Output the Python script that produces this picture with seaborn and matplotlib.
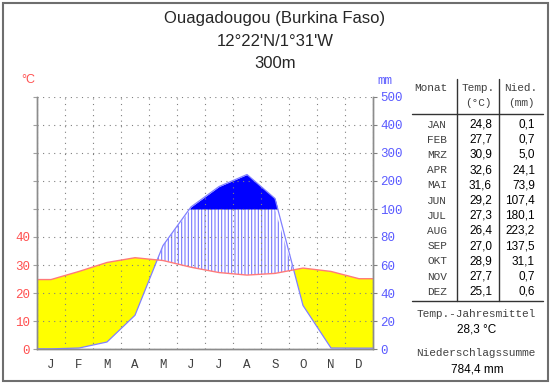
import numpy as np
import pandas as pd
import seaborn as sns
import matplotlib.pyplot as plt
from matplotlib.lines import Line2D
from matplotlib.patches import Rectangle

# climate data Ouagadougou
months = ['J', 'F', 'M', 'A', 'M', 'J', 'J', 'A', 'S', 'O', 'N', 'D']
month_names = ['JAN', 'FEB', 'MRZ', 'APR', 'MAI', 'JUN', 'JUL', 'AUG', 'SEP', 'OKT', 'NOV', 'DEZ']
temp = [24.8, 27.7, 30.9, 32.6, 31.6, 29.2, 27.3, 26.4, 27.0, 28.9, 27.7, 25.1]
prec = [0.1, 0.7, 5.0, 24.1, 73.9, 107.4, 180.1, 223.2, 137.5, 31.1, 0.7, 0.6]
left_ticks = ['0', '10', '20', '30', '40']
right_ticks = ['0', '20', '40', '60', '80', '100', '200', '300', '400', '500']

W, H = 550, 384


def fx(x):
    return x / W


def fy(y):
    return 1 - y / H


def scale_prec(p):
    p = np.asarray(p, dtype=float)
    return np.where(p <= 100, p / 2, 50 + (p - 100) / 10)


# month centres, values held flat out to the plot edges
x = np.r_[0, np.arange(12) + 0.5, 12]
t = np.r_[temp[0], temp, temp[-1]]
p = scale_prec(np.r_[prec[0], prec, prec[-1]])
df = pd.DataFrame({'x': x, 'temp': t, 'prec': p})

sns.set_style('white')
plt.rcParams['font.family'] = ['Liberation Sans', 'DejaVu Sans']
plt.rcParams['hatch.linewidth'] = 0.8
plt.rcParams['lines.scale_dashes'] = False

fig = plt.figure(figsize=(5.5, 3.84), dpi=100)
ax = fig.add_axes([fx(37), fy(349), fx(373) - fx(37), fy(97) - fy(349)])

# arid period
ax.fill_between(df['x'], df['prec'], df['temp'], where=df['temp'] >= df['prec'],
                interpolate=True, facecolor='#ffff00', linewidth=0, zorder=1)
# humid period (hatched, capped at 100 mm)
cap = np.minimum(df['prec'], 50)
ax.fill_between(df['x'], df['temp'], cap, where=df['prec'] >= df['temp'],
                interpolate=True, facecolor='white', edgecolor='#7878ff',
                hatch='|' * 5, linewidth=0, zorder=1)
# perhumid (> 100 mm)
ax.fill_between(df['x'], 50, df['prec'], where=df['prec'] >= 50,
                interpolate=True, facecolor='#0000ff', linewidth=0, zorder=1)

sns.lineplot(data=df, x='x', y='prec', ax=ax, color='#8080ff', linewidth=0.9, zorder=3)
sns.lineplot(data=df, x='x', y='temp', ax=ax, color='#ff7a7a', linewidth=1.0, zorder=3)

ax.set_xlim(0, 12)
ax.set_ylim(0, 90)
ax.set_xlabel('')
ax.set_ylabel('')

ax.set_xticks(np.arange(12) + 0.5)
ax.set_xticklabels(months, family='Liberation Mono', fontsize=9, color='#404040')
ax.set_xticks(np.arange(13), minor=True)
ax.tick_params(axis='x', which='major', length=0, pad=7)
ax.tick_params(axis='x', which='minor', length=4, width=0.8, color='#808080', direction='out')

ax.set_yticks(np.arange(0, 100, 10))
ax.set_yticklabels(left_ticks + [''] * 5, family='Liberation Mono', fontsize=9, color='#ff5050')
ax.tick_params(axis='y', length=3, width=0.8, color='#a0a0a0', pad=2, left=True)

ax.set_axisbelow(False)
ax.grid(False)
ax.grid(True, which='major', axis='y', color='#808080', linewidth=0.8, linestyle=(0, (0.8, 3.2)))
ax.grid(True, which='minor', axis='x', color='#808080', linewidth=0.8, linestyle=(0, (0.8, 3.2)))

ax2 = ax.twinx()
ax2.set_ylim(0, 90)
ax2.set_yticks(np.arange(0, 100, 10))
ax2.set_yticklabels(right_ticks, family='Liberation Mono', fontsize=9, color='#5a5aff')
ax2.tick_params(axis='y', length=3, width=0.8, color='#808080', pad=2, right=True)
ax2.grid(False)

for a in (ax, ax2):
    a.spines['top'].set_visible(False)
    for s in ('left', 'right', 'bottom'):
        a.spines[s].set_color('#8c8c8c')
        a.spines[s].set_linewidth(1.0)

# titles and unit labels
fig.text(0.5, fy(18), 'Ouagadougou (Burkina Faso)', ha='center', va='center', fontsize=12)
fig.text(0.5, fy(42), "12°22'N/1°31'W", ha='center', va='center', fontsize=12)
fig.text(0.5, fy(64), '300m', ha='center', va='center', fontsize=12)
fig.text(fx(28), fy(80), '°C', ha='center', va='center', fontsize=9, color='#ff5050')
fig.text(fx(385), fy(81), 'mm', ha='center', va='center', fontsize=9,
         family='Liberation Mono', color='#5a5aff')

# table
mono = dict(family='Liberation Mono', fontsize=8, color='#404040', va='center')
sans = dict(fontsize=8.5, color='black', va='center')
fig.text(fx(431), fy(88), 'Monat', ha='center', **mono)
fig.text(fx(478), fy(88), 'Temp.', ha='center', **mono)
fig.text(fx(478), fy(103), '(°C)', ha='center', **mono)
fig.text(fx(521), fy(88), 'Nied.', ha='center', **mono)
fig.text(fx(521), fy(103), '(mm)', ha='center', **mono)
for i, name in enumerate(month_names):
    yy = fy(124.5 + i * 15.2)
    fig.text(fx(447), yy, name, ha='right', **mono)
    fig.text(fx(492), yy, f'{temp[i]:.1f}'.replace('.', ','), ha='right', **sans)
    fig.text(fx(535), yy, f'{prec[i]:.1f}'.replace('.', ','), ha='right', **sans)

line_kw = dict(color='#333333', linewidth=1.0, transform=fig.transFigure)
fig.add_artist(Line2D([fx(412), fx(543)], [fy(114), fy(114)], **line_kw))
fig.add_artist(Line2D([fx(412), fx(543)], [fy(301), fy(301)], **line_kw))
fig.add_artist(Line2D([fx(457), fx(457)], [fy(79), fy(301)], **line_kw))
fig.add_artist(Line2D([fx(499), fx(499)], [fy(79), fy(301)], **line_kw))

mean_t = np.mean(temp)
sum_p = np.sum(prec)
fig.text(fx(476), fy(314), 'Temp.-Jahresmittel', ha='center', **mono)
fig.text(fx(477), fy(330), f'{mean_t:.1f} °C'.replace('.', ','), ha='center', **sans)
fig.text(fx(476), fy(353), 'Niederschlagssumme', ha='center', **mono)
fig.text(fx(477), fy(369), f'{sum_p:.1f} mm'.replace('.', ','), ha='center', **sans)

# outer frame
fig.add_artist(Rectangle((fx(2.5), fy(381)), fx(548) - fx(2.5), fy(2.5) - fy(381),
                         fill=False, edgecolor='#6e6e6e', linewidth=1.5,
                         transform=fig.transFigure))

fig.savefig('out.png', dpi=100)
